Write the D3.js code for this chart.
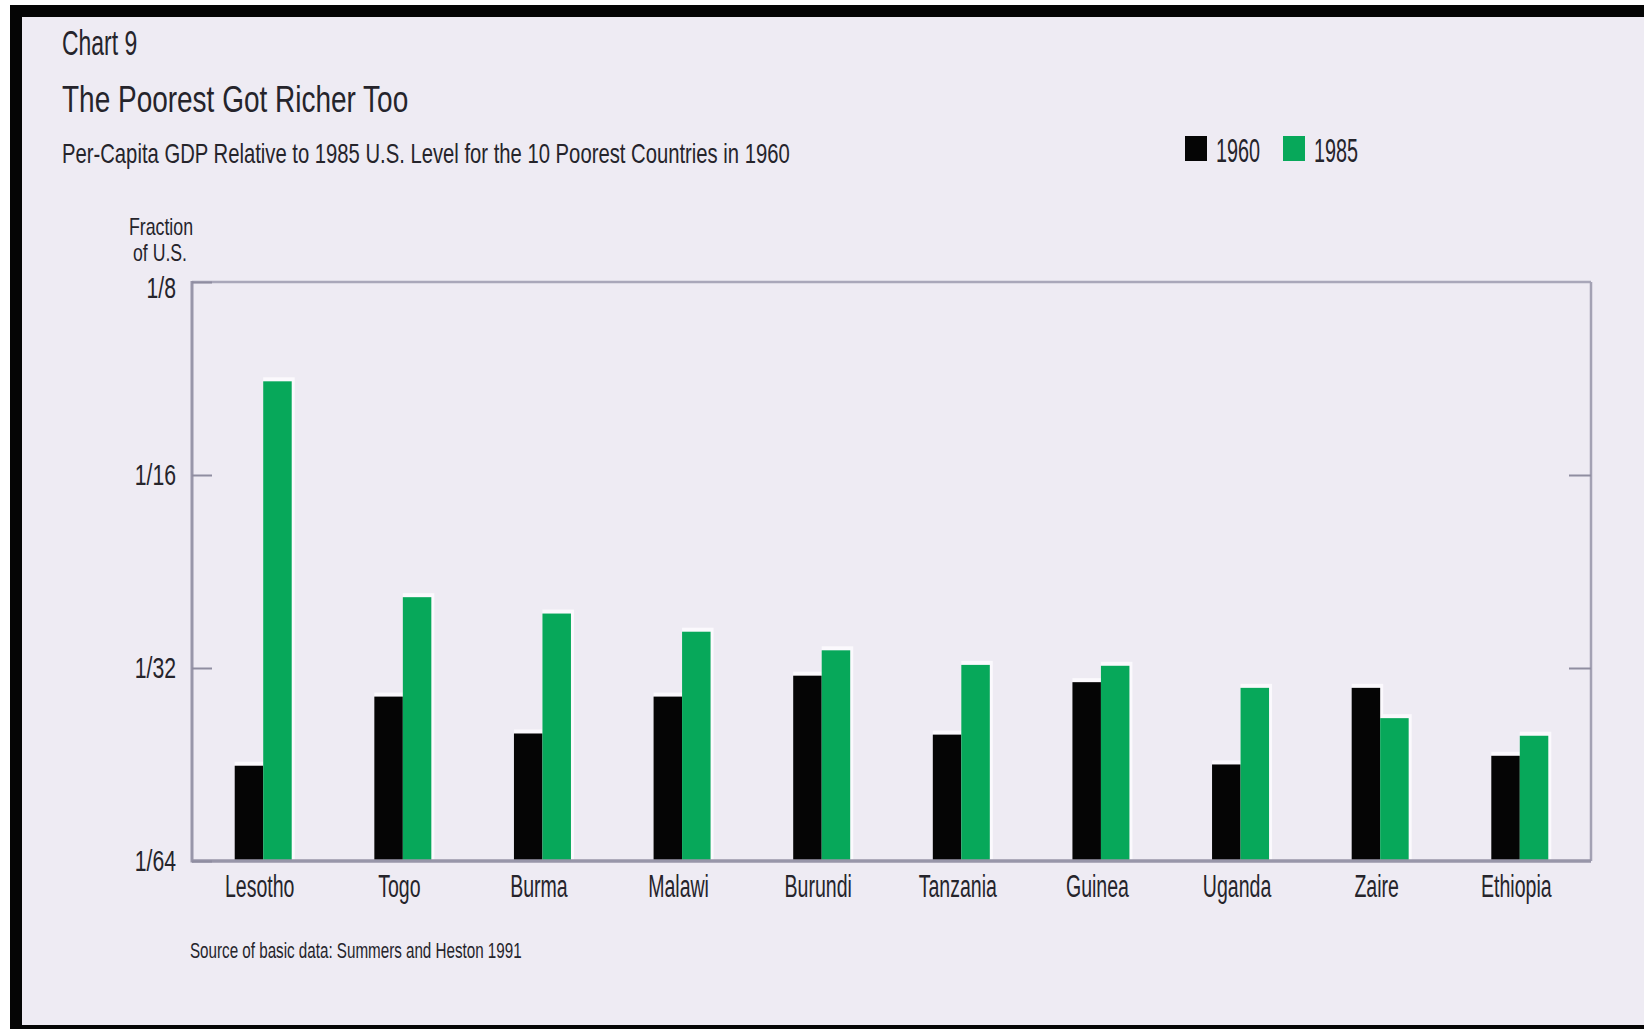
<!DOCTYPE html>
<html>
<head>
<meta charset="utf-8">
<script src="https://cdn.jsdelivr.net/npm/d3@7"></script>
<style>
  html, body { margin: 0; padding: 0; background: #ffffff; }
  svg { display: block; }
  text { font-family: "Liberation Sans", Arial, sans-serif; fill: #25242b; }
</style>
</head>
<body>
<svg id="chart" width="1644" height="1029"></svg>
<script>
// Per-capita GDP as a fraction of the 1985 U.S. level
const categories = ["Lesotho", "Togo", "Burma", "Malawi", "Burundi", "Tanzania", "Guinea", "Uganda", "Zaire", "Ethiopia"];
const gdp1960 = [0.0220, 0.0282, 0.0247, 0.0282, 0.0304, 0.0246, 0.0297, 0.0221, 0.0291, 0.0228];
const gdp1985 = [0.0875, 0.0403, 0.0380, 0.0356, 0.0333, 0.0316, 0.0315, 0.0291, 0.0261, 0.0245];
const years = ["1960", "1985"];
const tickValues = [1 / 8, 1 / 16, 1 / 32, 1 / 64];
const tickLabels = ["1/8", "1/16", "1/32", "1/64"];

const svg = d3.select("#chart");
const W = 1644, H = 1029;

// page: black frame and paper
svg.append("rect").attr("x", 10).attr("y", 5).attr("width", W - 10).attr("height", H - 5).attr("fill", "#050505");
svg.append("rect").attr("x", 22).attr("y", 17).attr("width", W - 22).attr("height", H - 17 - 4).attr("fill", "#eeebf3");

// condensed lettering: squeeze each text to a fraction of its natural width
function squeeze(sel, k) {
  sel.each(function () {
    const w = this.getComputedTextLength();
    d3.select(this).attr("textLength", w * k).attr("lengthAdjust", "spacingAndGlyphs");
  });
}

const plot = { left: 192, right: 1591, top: 282, bottom: 861 };

const x = d3.scalePoint().domain(categories).range([plot.left, plot.right]).padding(0.51);
const inner = d3.scaleBand().domain(years).range([-28.5, 28.5]).padding(0);
const y = d3.scaleLog().base(2).domain([1 / 64, 1 / 8]).range([plot.bottom, plot.top]);
const color = d3.scaleOrdinal().domain(years).range(["#050505", "#07a85a"]);

const rows = categories.map((c, i) => ({ country: c, values: [gdp1960[i], gdp1985[i]] }));

// titles
squeeze(svg.append("text").attr("x", 62).attr("y", 55).attr("font-size", 35).text("Chart 9"), 0.655);
squeeze(svg.append("text").attr("x", 62).attr("y", 112).attr("font-size", 37).text("The Poorest Got Richer Too"), 0.756);
squeeze(svg.append("text").attr("x", 62).attr("y", 163).attr("font-size", 28)
  .text("Per-Capita GDP Relative to 1985 U.S. Level for the 10 Poorest Countries in 1960"), 0.723);

// y axis caption
const cap = svg.append("g").attr("text-anchor", "middle");
squeeze(cap.append("text").attr("x", 161).attr("y", 235).attr("font-size", 24).text("Fraction"), 0.74);
squeeze(cap.append("text").attr("x", 160).attr("y", 261).attr("font-size", 24).text("of U.S."), 0.735);

// bars with a light paper halo on top and right
const groups = svg.append("g").selectAll("g").data(rows).join("g")
  .attr("transform", d => `translate(${x(d.country)},0)`);

groups.selectAll("rect.halo").data(d => d.values.map((v, j) => ({ year: years[j], v })))
  .join("rect").attr("class", "halo")
  .attr("x", d => inner(d.year))
  .attr("y", d => y(d.v) - 4)
  .attr("width", inner.bandwidth() + 3)
  .attr("height", d => plot.bottom - y(d.v) + 4)
  .attr("fill", "#fbf9fd");

groups.selectAll("rect.bar").data(d => d.values.map((v, j) => ({ year: years[j], v })))
  .join("rect").attr("class", "bar")
  .attr("x", d => inner(d.year))
  .attr("y", d => y(d.v))
  .attr("width", inner.bandwidth())
  .attr("height", d => plot.bottom - y(d.v))
  .attr("fill", d => color(d.year));

// frame
const frame = svg.append("g").attr("fill", "none");
frame.append("line").attr("x1", plot.left).attr("x2", plot.right).attr("y1", plot.top).attr("y2", plot.top)
  .attr("stroke", "#a9a7b9").attr("stroke-width", 2.5);
frame.append("line").attr("x1", plot.right).attr("x2", plot.right).attr("y1", plot.top).attr("y2", plot.bottom)
  .attr("stroke", "#a3a1b3").attr("stroke-width", 2.5);
frame.append("line").attr("x1", plot.left).attr("x2", plot.left).attr("y1", plot.top - 1).attr("y2", plot.bottom + 1.5)
  .attr("stroke", "#9896a9").attr("stroke-width", 3);
frame.append("line").attr("x1", plot.left).attr("x2", plot.right).attr("y1", plot.bottom).attr("y2", plot.bottom)
  .attr("stroke", "#9896a9").attr("stroke-width", 3.5);

// left axis: inward ticks with fraction labels
const yAxis = d3.axisLeft(y).tickValues(tickValues)
  .tickFormat((d, i) => tickLabels[i]).tickSize(-20).tickPadding(16);
const gy = svg.append("g").attr("transform", `translate(${plot.left},0)`).call(yAxis);
gy.select(".domain").remove();
gy.selectAll(".tick line").attr("stroke", "#8f8da0").attr("stroke-width", 2);
gy.selectAll(".tick text").attr("font-size", 29).attr("font-family", null).attr("fill", "#25242b")
  .attr("dy", d => d === 1 / 8 ? "0.55em" : "0.34em");
squeeze(gy.selectAll(".tick text"), 0.73);

// right axis: inward ticks only
const gr = svg.append("g").attr("transform", `translate(${plot.right},0)`)
  .call(d3.axisRight(y).tickValues(tickValues.slice(1, 3)).tickSize(-22).tickFormat(""));
gr.select(".domain").remove();
gr.selectAll(".tick line").attr("stroke", "#8f8da0").attr("stroke-width", 2);

// category labels
const gx = svg.append("g").attr("transform", `translate(0,${plot.bottom})`)
  .call(d3.axisBottom(x).tickSize(0).tickPadding(14));
gx.select(".domain").remove();
gx.selectAll(".tick text").attr("font-size", 31).attr("font-family", null).attr("fill", "#25242b")
  .attr("dy", "0.71em").attr("x", -4);
squeeze(gx.selectAll(".tick text"), 0.63);

// legend
const legend = svg.append("g").selectAll("g").data(years).join("g")
  .attr("transform", (d, i) => `translate(${1185 + i * 98},136)`);
legend.append("rect").attr("width", 22).attr("height", 25).attr("fill", d => color(d));
legend.append("text").attr("x", 31).attr("y", 26).attr("font-size", 33).text(d => d)
  .each(function () { squeeze(d3.select(this), 0.6); });

// source note
squeeze(svg.append("text").attr("x", 190).attr("y", 958).attr("font-size", 22)
  .text("Source of basic data: Summers and Heston 1991"), 0.69);
</script>
</body>
</html>
